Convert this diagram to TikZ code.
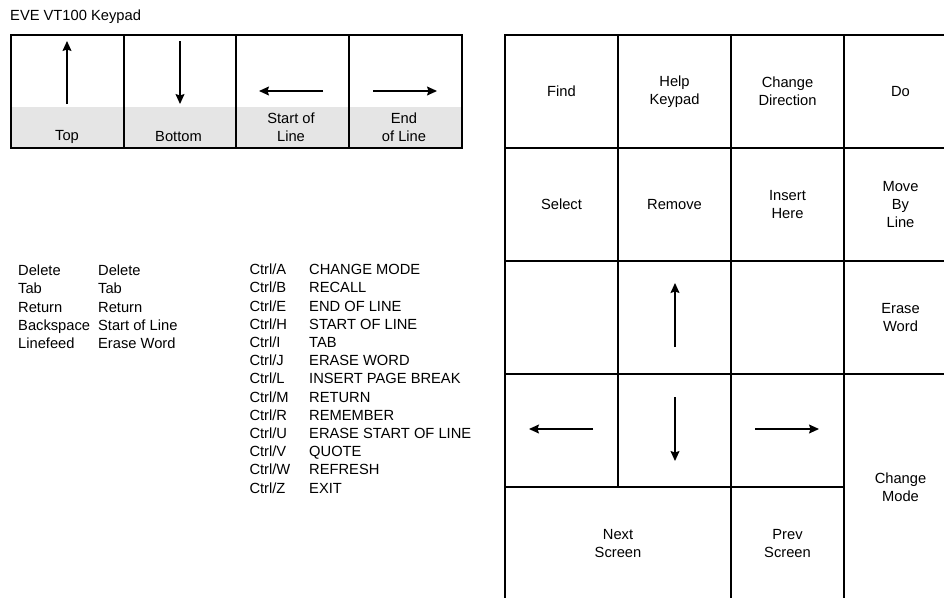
\documentclass[tikz,border=0pt]{standalone}
\usepackage{fontspec}
\setmainfont{Liberation Sans}
\usetikzlibrary{arrows.meta}
\newcommand{\ctrlrow}[2]{\makebox[59.7pt][l]{#1}#2}
\newcommand{\altrow}[2]{\makebox[80pt][l]{#1}#2}
\tikzset{
  key/.style={draw, line width=1.8pt, minimum width=113pt, minimum height=113pt,
    inner sep=0pt, outer sep=0pt, align=center},
  topkey/.style={draw, line width=1.4pt, minimum width=113pt, minimum height=113pt,
    inner sep=0pt, outer sep=0pt},
  keylabel/.style={align=center, inner sep=0pt},
  listitem/.style={anchor=base west, inner sep=0pt},
  keyarrow/.style={->, line width=1.3pt},
}

\begin{document}
\begin{tikzpicture}[x=1pt, y=-1pt, >={Stealth[length=10pt,width=9pt,inset=1.5pt]},
  font=\fontsize{14.7pt}{18pt}\selectfont]
\path[use as bounding box, clip] (0,0) rectangle (944,597);

% Title
\node[listitem] (title) at (10,20) {EVE VT100 Keypad};

% Upper keys
\fill[gray!20] (11,107) rectangle (462,148);
\node[topkey] (ktop) at (67.5,91.5) {};
\node[topkey] (kbottom) at (180,91.5) {};
\node[topkey] (kstart) at (292.5,91.5) {};
\node[topkey] (kend) at (405.5,91.5) {};
\node[keylabel] (ltop) at (67,137) {Top};
\node[keylabel] (lbottom) at (178.5,137) {Bottom};
\node[keylabel] (lstart) at (291,127) {Start of\\Line};
\node[keylabel] (lend) at (404,127) {End\\of Line};

\coordinate (topA) at (67,104);    \coordinate (topB) at (67,41);
\coordinate (botA) at (180,41);    \coordinate (botB) at (180,104);
\coordinate (startA) at (323,91);  \coordinate (startB) at (259,91);
\coordinate (endA) at (373,91);    \coordinate (endB) at (437,91);
\draw[keyarrow] (topA) -- (topB);
\draw[keyarrow] (botA) -- (botB);
\draw[keyarrow] (startA) -- (startB);
\draw[keyarrow] (endA) -- (endB);

% Control keys
\node[listitem] (del) at (18,275.7) {\altrow{Delete}{Delete}};
\node[listitem] (tab) at (18,293.9) {\altrow{Tab}{Tab}};
\node[listitem] (ret) at (18,312.1) {\altrow{Return}{Return}};
\node[listitem] (bsp) at (18,330.3) {\altrow{Backspace}{Start of Line}};
\node[listitem] (lfd) at (18,348.5) {\altrow{Linefeed}{Erase Word}};

\node[listitem] (ctrlA) at (249.3,274.7) {\ctrlrow{Ctrl/A}{CHANGE MODE}};
\node[listitem] (ctrlB) at (249.3,292.9) {\ctrlrow{Ctrl/B}{RECALL}};
\node[listitem] (ctrlE) at (249.3,311.1) {\ctrlrow{Ctrl/E}{END OF LINE}};
\node[listitem] (ctrlH) at (249.3,329.3) {\ctrlrow{Ctrl/H}{START OF LINE}};
\node[listitem] (ctrlI) at (249.3,347.5) {\ctrlrow{Ctrl/I}{TAB}};
\node[listitem] (ctrlJ) at (249.3,365.7) {\ctrlrow{Ctrl/J}{ERASE WORD}};
\node[listitem] (ctrlL) at (249.3,383.9) {\ctrlrow{Ctrl/L}{INSERT PAGE BREAK}};
\node[listitem] (ctrlM) at (249.3,402.1) {\ctrlrow{Ctrl/M}{RETURN}};
\node[listitem] (ctrlR) at (249.3,420.3) {\ctrlrow{Ctrl/R}{REMEMBER}};
\node[listitem] (ctrlU) at (249.3,438.5) {\ctrlrow{Ctrl/U}{ERASE START OF LINE}};
\node[listitem] (ctrlV) at (249.3,456.7) {\ctrlrow{Ctrl/V}{QUOTE}};
\node[listitem] (ctrlW) at (249.3,474.9) {\ctrlrow{Ctrl/W}{REFRESH}};
\node[listitem] (ctrlZ) at (249.3,493.1) {\ctrlrow{Ctrl/Z}{EXIT}};

% Keypad
\node[key] (find) at (561.5,91.5) {Find};
\node[key] (help) at (674.5,91.5) {Help\\Keypad};
\node[key] (chdir) at (787.5,91.5) {Change\\Direction};
\node[key] (do) at (900.5,91.5) {Do};
\node[key] (select) at (561.5,204.5) {Select};
\node[key] (remove) at (674.5,204.5) {Remove};
\node[key] (insert) at (787.5,204.5) {Insert\\Here};
\node[key] (moveline) at (900.5,204.5) {Move\\By\\Line};
\node[key] (blankA) at (561.5,317.5) {};
\node[key] (up) at (674.5,317.5) {};
\node[key] (blankB) at (787.5,317.5) {};
\node[key] (erase) at (900.5,317.5) {Erase\\Word};
\node[key] (left) at (561.5,430.5) {};
\node[key] (down) at (674.5,430.5) {};
\node[key] (right) at (787.5,430.5) {};
\node[key, minimum height=226pt] (chmode) at (900.5,487) {Change\\Mode};
\node[key, minimum width=226pt] (next) at (618,543.5) {Next\\Screen};
\node[key] (prev) at (787.5,543.5) {Prev\\Screen};

\coordinate (upA) at (675,347);     \coordinate (upB) at (675,283);
\coordinate (downA) at (675,397);   \coordinate (downB) at (675,461);
\coordinate (leftA) at (593,429);   \coordinate (leftB) at (529,429);
\coordinate (rightA) at (755,429);  \coordinate (rightB) at (819,429);
\draw[keyarrow] (upA) -- (upB);
\draw[keyarrow] (downA) -- (downB);
\draw[keyarrow] (leftA) -- (leftB);
\draw[keyarrow] (rightA) -- (rightB);
\end{tikzpicture}
\end{document}
